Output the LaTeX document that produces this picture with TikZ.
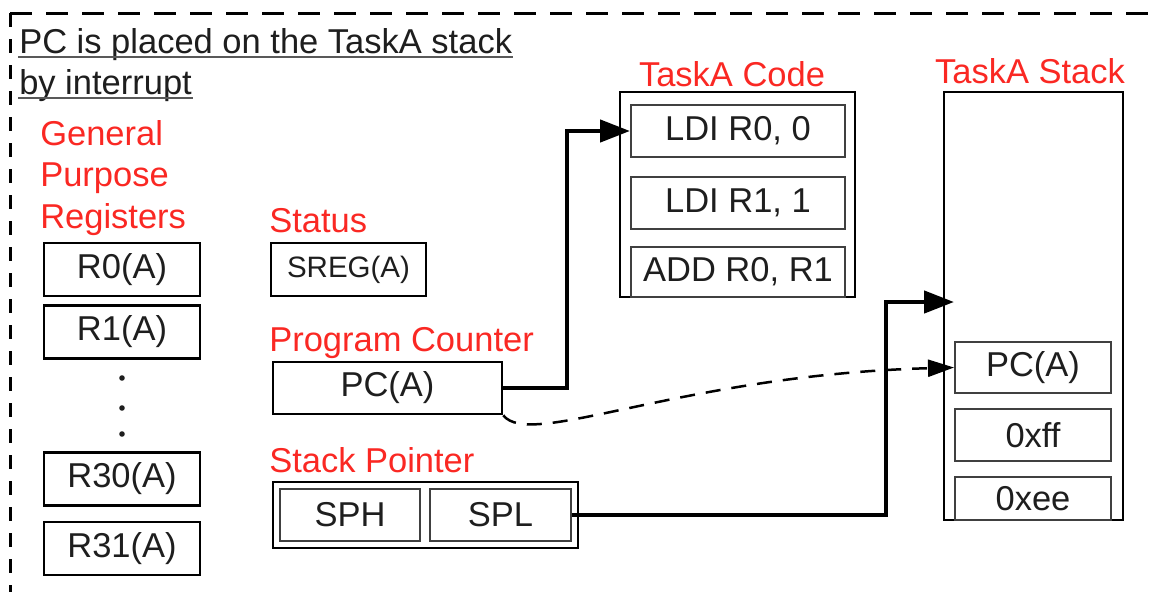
\documentclass[tikz,border=0pt]{standalone}
\usepackage{fontspec}
\setmainfont{Liberation Sans}
\usetikzlibrary{calc,arrows.meta}
\definecolor{LabelRed}{RGB}{250,40,35}
\definecolor{InkGray}{RGB}{30,30,30}
\newcommand{\TextSize}{\fontsize{34.5}{40}\selectfont}
\newcommand{\SmallSize}{\fontsize{29.5}{35}\selectfont}
\tikzset{Box/.style={
    inner sep=0pt,
    draw=black,
    line width=2.5pt,
    text=InkGray,
    font=\TextSize,
    },
    RegBox/.style={Box, minimum width=156pt, minimum height=53pt},
    Cell/.style={Box, draw=black!75, line width=2pt},
    Label/.style={inner sep=0pt, anchor=base west, text=LabelRed, font=\TextSize},
    Link/.style={line width=4.5pt, -{Triangle[length=30pt,width=22pt]}},
    Push/.style={line width=2.5pt, dash pattern=on 15pt off 11pt,
        -{Triangle[length=26pt,width=17pt]}},
}

\begin{document}
\begin{tikzpicture}[x=1pt, y=-1pt, line width=2.5pt]
    \useasboundingbox (0,0) rectangle (1155,592);
    \draw [line width=3pt, dash pattern=on 14pt off 12pt] (10,13) -- (10,592);
    \draw [line width=3pt, dash pattern=on 22pt off 14pt] (10,13) -- (1155,13);

    \node [Label, text=InkGray] (title1) at (18,53) {PC is placed on the TaskA stack};
    \node [Label, text=InkGray] (title2) at (18,94) {by interrupt};
    \draw [draw=black!65, line width=2pt] ($(title1.base west)+(0,4)$) -- ($(title1.base east)+(0,4)$);
    \draw [draw=black!65, line width=2pt] ($(title2.base west)+(0,4)$) -- ($(title2.base east)+(0,4)$);

    \node [Label] (gpr1) at (39,145) {General};
    \node [Label] (gpr2) at (39,186) {Purpose};
    \node [Label] (gpr3) at (39,228) {Registers};
    \node [RegBox] (r0) at (122,269.5) {R0(A)};
    \node [RegBox] (r1) at (122,332) {R1(A)};
    \foreach \y in {378,408,434} \fill [InkGray] (122,\y) circle (2.8pt);
    \node [RegBox] (r30) at (122,479) {R30(A)};
    \node [RegBox] (r31) at (122,548.5) {R31(A)};

    \node [Label] (statusl) at (268,232) {Status};
    \node [Box, font=\SmallSize, minimum width=155pt, minimum height=53pt] (sreg) at (348.5,269.5) {SREG(A)};
    \node [Label] (pcl) at (268,351) {Program Counter};
    \node [Box, minimum width=229pt, minimum height=52pt] (pc) at (387.5,388) {PC(A)};
    \node [Label] (spl_label) at (268,472) {Stack Pointer};
    \node [Box, minimum width=305pt, minimum height=66pt] (sp) at (425.5,515) {};
    \node [Cell, minimum width=140pt, minimum height=52pt] (sph) at (350,515) {SPH};
    \node [Cell, minimum width=141pt, minimum height=52pt] (spl) at (500.5,515) {SPL};

    \node [Label, anchor=base] (codel) at (732,86) {TaskA Code};
    \node [Box, minimum width=235pt, minimum height=205pt] (code) at (737.5,194.5) {};
    \node [Cell, minimum width=214pt, minimum height=52pt] (ldi0) at (738,131) {LDI R0, 0};
    \node [Cell, minimum width=214pt, minimum height=52pt] (ldi1) at (738,203) {LDI R1, 1};
    \node [Cell, minimum width=214pt, minimum height=50pt] (add) at (738,272) {ADD R0, R1};

    \node [Label, anchor=base] (stackl) at (1030,83) {TaskA Stack};
    \node [Box, minimum width=179pt, minimum height=428pt] (stack) at (1033.5,306) {};
    \node [Cell, minimum width=156pt, minimum height=51pt] (spc) at (1033,367.5) {PC(A)};
    \node [Cell, minimum width=156pt, minimum height=52pt] (xff) at (1033,435) {0xff};
    \node [Cell, minimum width=156pt, minimum height=43pt] (xee) at (1033,498.5) {0xee};

    \coordinate (pcTurn) at (567,388);
    \draw [Link] (pc.east) -- (pcTurn) |- (ldi0.west);
    \coordinate (spTurn) at (886,515);
    \coordinate (spTip) at (954,302);
    \draw [Link] (spl.east) -- (spTurn) |- (spTip);
    \draw [Push] (pc.south east) .. controls (530,450) and (680,375) .. (spc.west);
\end{tikzpicture}
\end{document}
